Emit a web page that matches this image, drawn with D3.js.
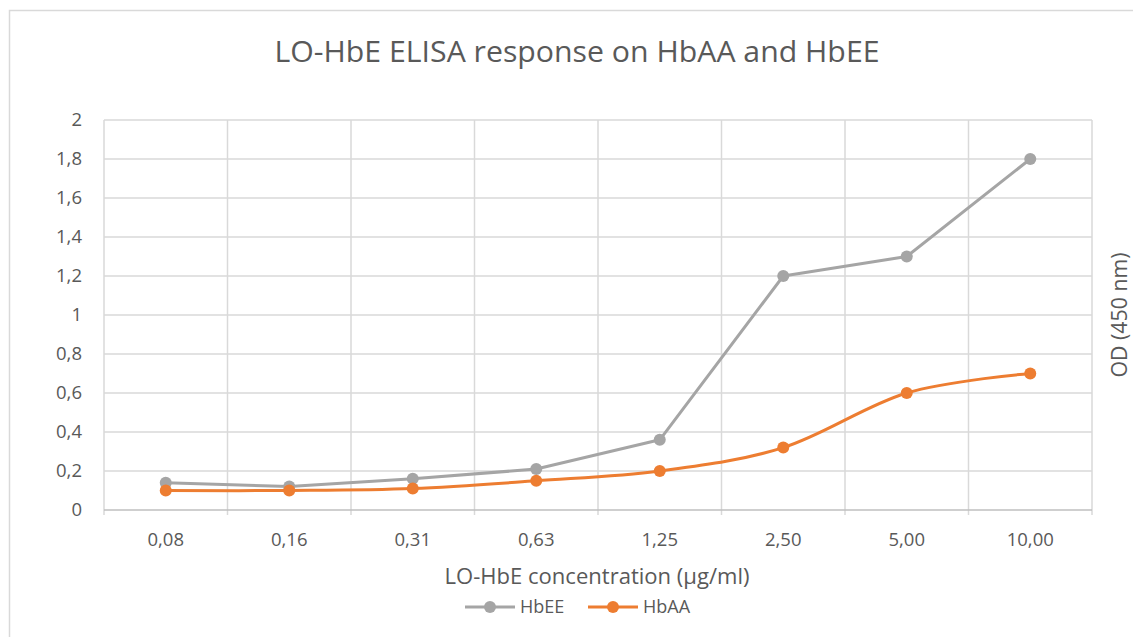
<!DOCTYPE html>
<html lang="en">
<head>
<meta charset="utf-8">
<script src="https://d3js.org/d3.v7.min.js"></script>
<style>
  body { margin: 0; background: #fff; }
  svg { display: block; font-family: "Open Sans", "Noto Sans", sans-serif; }
</style>
</head>
<body>
<svg id="chart" width="1133" height="637"></svg>
<script>
// data
var concentrations = ['0,08', '0,16', '0,31', '0,63', '1,25', '2,50', '5,00', '10,00'];
var hbEE = [0.14, 0.12, 0.16, 0.21, 0.36, 1.20, 1.30, 1.80];
var hbAA = [0.10, 0.10, 0.11, 0.15, 0.20, 0.32, 0.60, 0.70];
var yTicks = [0, 0.2, 0.4, 0.6, 0.8, 1, 1.2, 1.4, 1.6, 1.8, 2];

var series = [
  { name: 'HbEE', values: hbEE, color: '#A5A5A5', smooth: false },
  { name: 'HbAA', values: hbAA, color: '#ED7D31', smooth: true }
];

var svg = d3.select('#chart');
var textColor = '#595959';

// chart frame (runs off the right and bottom of the picture)
svg.append('rect')
  .attr('x', 9.5).attr('y', 10.5)
  .attr('width', 1200).attr('height', 700)
  .attr('fill', 'none')
  .attr('stroke', '#D9D9D9')
  .attr('stroke-width', 1.5);

var margin = { left: 104, right: 1092, top: 120, bottom: 510 };

var x = d3.scaleBand()
  .domain(concentrations)
  .range([margin.left, margin.right]);

var y = d3.scaleLinear()
  .domain([0, 2])
  .range([margin.bottom, margin.top]);

var fmt = function(d) { return String(+d.toFixed(1)).replace('.', ','); };

// horizontal grid
svg.append('g')
  .selectAll('line')
  .data(yTicks.slice(1))
  .enter().append('line')
  .attr('x1', margin.left).attr('x2', margin.right)
  .attr('y1', d => y(d)).attr('y2', d => y(d))
  .attr('stroke', '#D9D9D9').attr('stroke-width', 1.5);

// vertical grid at category boundaries
var bounds = concentrations.map(c => x(c)).concat([margin.right]);
svg.append('g')
  .selectAll('line')
  .data(bounds)
  .enter().append('line')
  .attr('x1', d => d).attr('x2', d => d)
  .attr('y1', margin.top).attr('y2', margin.bottom + 5)
  .attr('stroke', '#D9D9D9').attr('stroke-width', 1.5);

// x axis line
svg.append('line')
  .attr('x1', margin.left).attr('x2', margin.right)
  .attr('y1', margin.bottom).attr('y2', margin.bottom)
  .attr('stroke', '#BFBFBF').attr('stroke-width', 1.5);

// y tick labels
svg.append('g')
  .selectAll('text')
  .data(yTicks)
  .enter().append('text')
  .attr('x', 82)
  .attr('y', d => y(d))
  .attr('dy', '0.35em')
  .attr('text-anchor', 'end')
  .attr('fill', textColor)
  .style('font-size', '18.5px')
  .text(fmt);

// x tick labels
svg.append('g')
  .selectAll('text')
  .data(concentrations)
  .enter().append('text')
  .attr('x', d => x(d) + x.bandwidth() / 2)
  .attr('y', 546)
  .attr('text-anchor', 'middle')
  .attr('fill', textColor)
  .style('font-size', '18.5px')
  .text(d => d);

// title
svg.append('text')
  .attr('x', 577).attr('y', 62)
  .attr('text-anchor', 'middle')
  .attr('fill', textColor)
  .style('font-size', '29px')
  .attr('textLength', 605)
  .attr('lengthAdjust', 'spacingAndGlyphs')
  .text('LO-HbE ELISA response on HbAA and HbEE');

// axis titles
svg.append('text')
  .attr('x', 597).attr('y', 584)
  .attr('text-anchor', 'middle')
  .attr('fill', textColor)
  .style('font-size', '21px')
  .attr('textLength', 305)
  .attr('lengthAdjust', 'spacingAndGlyphs')
  .text('LO-HbE concentration (µg/ml)');

svg.append('text')
  .attr('transform', 'translate(1127,315) rotate(-90)')
  .attr('text-anchor', 'middle')
  .attr('fill', textColor)
  .style('font-size', '21px')
  .attr('textLength', 125)
  .attr('lengthAdjust', 'spacingAndGlyphs')
  .text('OD (450 nm)');

// lines and markers
series.forEach(function(s) {
  var line = d3.line()
    .x((d, i) => x(concentrations[i]) + x.bandwidth() / 2)
    .y(d => y(d))
    .curve(s.smooth ? d3.curveCatmullRom.alpha(0) : d3.curveLinear);

  svg.append('path')
    .datum(s.values)
    .attr('d', line)
    .attr('fill', 'none')
    .attr('stroke', s.color)
    .attr('stroke-width', 3)
    .attr('stroke-linejoin', 'round');

  svg.append('g')
    .selectAll('circle')
    .data(s.values)
    .enter().append('circle')
    .attr('cx', (d, i) => x(concentrations[i]) + x.bandwidth() / 2)
    .attr('cy', d => y(d))
    .attr('r', 6)
    .attr('fill', s.color);
});

// legend
var legendX = [465, 588];
var legend = svg.append('g')
  .selectAll('g')
  .data(series)
  .enter().append('g')
  .attr('transform', (d, i) => 'translate(' + legendX[i] + ',607)');

legend.append('line')
  .attr('x1', 0).attr('x2', 50)
  .attr('stroke', d => d.color)
  .attr('stroke-width', 3);

legend.append('circle')
  .attr('cx', 25).attr('r', 6)
  .attr('fill', d => d.color);

legend.append('text')
  .attr('x', 55).attr('dy', '0.35em')
  .attr('fill', textColor)
  .style('font-size', '18px')
  .text(d => d.name);
</script>
</body>
</html>
